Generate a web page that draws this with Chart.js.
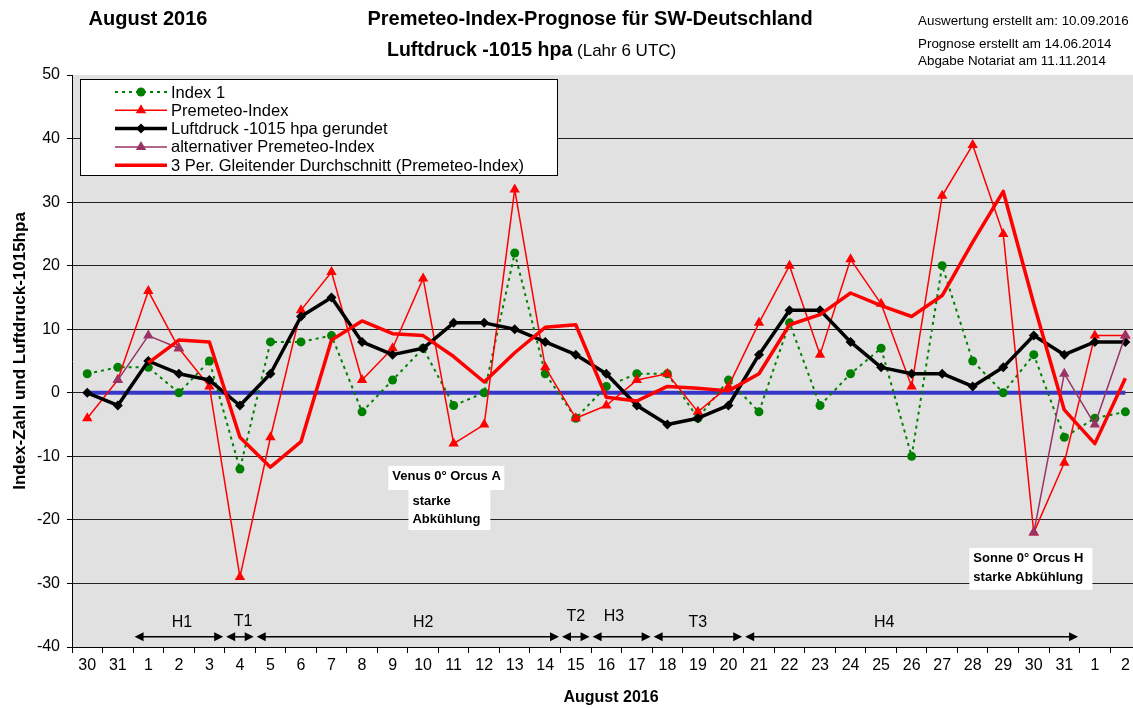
<!DOCTYPE html>
<html lang="de">
<head>
<meta charset="utf-8">
<title>Premeteo-Index-Prognose August 2016</title>
<script src="https://cdn.jsdelivr.net/npm/chart.js@4.4.1/dist/chart.umd.min.js"></script>
<style>
  html, body { margin: 0; padding: 0; background: #fff; overflow: hidden; }
  #myChart { display: block; width: 1133px; height: 708px; }
</style>
</head>
<body>
<canvas id="myChart" width="1133" height="708"></canvas>
<script>
// Tage auf der x-Achse (30./31. Juli, August, 1./2. September)
const tage = ['30', '31', '1', '2', '3', '4', '5', '6', '7', '8', '9', '10', '11', '12', '13', '14', '15',
  '16', '17', '18', '19', '20', '21', '22', '23', '24', '25', '26', '27', '28', '29', '30', '31', '1', '2'];

// Werte
const index1 = [3, 4, 4, 0, 5, -12, 8, 8, 9, -3, 2, 7, -2, 0, 22, 3, -4, 1, 3, 3, -4, 2, -3, 11, -2, 3, 7, -10, 20, 5, 0, 6, -7, -4, -3];
const premeteo = [-4, 2, 16, 7, 1, -29, -7, 13, 19, 2, 7, 18, -8, -5, 32, 4, -4, -2, 2, 3, -3, 1, 11, 20, 6, 21, 14, 1, 31, 39, 25, -22, -11, 9, 9];
const luftdruck = [0, -2, 5, 3, 2, -2, 3, 12, 15, 8, 6, 7, 11, 11, 10, 8, 6, 3, -2, -5, -4, -2, 6, 13, 13, 8, 4, 3, 3, 1, 4, 9, 6, 8, 8];
const alternativ = [null, 2, 9, 7, null, null, null, null, null, null, null, null, null, null, null, null, null, null,
  null, null, null, null, null, null, null, null, null, null, null, null, null, -22, 3, -5, 9];
const gleitend = [null, null, 4.7, 8.3, 8, -7, -11.7, -7.7, 8.3, 11.3, 9.3, 9, 5.7, 1.7, 6.3, 10.3, 10.7, -0.7, -1.3,
  1, 0.7, 0.3, 3, 10.7, 12.3, 15.7, 13.7, 12, 15.3, 23.7, 31.7, 14, -2.7, -8, 2.3];
const nullLinie = [0, 0, 0, 0, 0, 0, 0, 0, 0, 0, 0, 0, 0, 0, 0, 0, 0, 0, 0, 0, 0, 0, 0, 0, 0, 0, 0, 0, 0, 0, 0, 0, 0, 0, 0];

// y-Achse
const yMin = -40;
const yMax = 50;
const yStep = 10;

// x-Achse: halber Tag vor dem ersten Wert, rechts ist das Bild angeschnitten
const xMin = -0.5;
const xMax = 34.25;

// Wetterphasen (Pfeile unten), Positionen auf der x-Achse
const phasen = [
  { name: 'H1', von: 1.5, bis: 4.5, text: 3.1, hoch: 14 },
  { name: 'T1', von: 4.5, bis: 5.5, text: 5.1, hoch: 15 },
  { name: 'H2', von: 5.5, bis: 15.5, text: 11, hoch: 14 },
  { name: 'T2', von: 15.5, bis: 16.5, text: 16, hoch: 20 },
  { name: 'H3', von: 16.5, bis: 18.5, text: 17.25, hoch: 20 },
  { name: 'T3', von: 18.5, bis: 21.5, text: 20, hoch: 14 },
  { name: 'H4', von: 21.5, bis: 32.5, text: 26.1, hoch: 14 }
];

// Textkästen im Diagramm
const hinweise = [
  { links: 9.86, rechts: 13.66, oben: -11.5, unten: -15.3, zeilen: ['Venus 0° Orcus A'] },
  { links: 10.52, rechts: 13.2, oben: -15.3, unten: -21.6, zeilen: ['starke', 'Abkühlung'] },
  { links: 28.89, rechts: 32.92, oben: -24.4, unten: -31.0, zeilen: ['Sonne 0° Orcus H', 'starke Abkühlung'] }
];

const fontFam = 'Arial, "Liberation Sans", sans-serif';
Chart.defaults.font.family = fontFam;
Chart.defaults.color = '#000';

// Werte als Punkte {x: Tagindex, y: Wert}
const punkte = (werte) => werte.map((v, i) => ({ x: i, y: v }));

// kleine Marker fuer die Legende
function zeichneMarker(ctx, stil, r, x, y) {
  ctx.beginPath();
  if (stil === 'circle') {
    ctx.arc(x, y, r, 0, Math.PI * 2);
  } else if (stil === 'triangle') {
    ctx.moveTo(x, y - r);
    ctx.lineTo(x + r * 0.866, y + r / 2);
    ctx.lineTo(x - r * 0.866, y + r / 2);
    ctx.closePath();
  } else if (stil === 'rectRot') {
    ctx.moveTo(x, y - r);
    ctx.lineTo(x + r, y);
    ctx.lineTo(x, y + r);
    ctx.lineTo(x - r, y);
    ctx.closePath();
  }
  ctx.fill();
}

// grauer Plotbereich
const hintergrund = {
  id: 'hintergrund',
  beforeDraw(chart) {
    const { ctx, chartArea: a } = chart;
    ctx.save();
    ctx.fillStyle = '#fff';
    ctx.fillRect(0, 0, chart.width, chart.height);
    ctx.fillStyle = '#e1e1e1';
    ctx.fillRect(a.left, a.top, a.right - a.left, a.bottom - a.top);
    ctx.restore();
  }
};

// Ueberschriften oben und Achsentitel
const kopf = {
  id: 'kopf',
  afterDraw(chart) {
    const ctx = chart.ctx;
    ctx.save();
    ctx.fillStyle = '#000';
    ctx.textBaseline = 'alphabetic';
    ctx.font = 'bold 20px ' + fontFam;
    ctx.textAlign = 'center';
    ctx.fillText('August 2016', 148, 25);
    ctx.fillText('Premeteo-Index-Prognose für SW-Deutschland', 590, 25);
    ctx.textAlign = 'left';
    const t1 = 'Luftdruck -1015 hpa';
    ctx.font = 'bold 19.5px ' + fontFam;
    ctx.fillText(t1, 387, 56);
    const w1 = ctx.measureText(t1).width;
    ctx.font = '17px ' + fontFam;
    ctx.fillText(' (Lahr 6 UTC)', 387 + w1, 56);
    ctx.font = '13.4px ' + fontFam;
    ctx.fillText('Auswertung erstellt am: 10.09.2016', 918, 25);
    ctx.fillText('Prognose erstellt am 14.06.2014', 918, 48);
    ctx.fillText('Abgabe Notariat am 11.11.2014', 918, 65);

    // x-Achsentitel
    ctx.textAlign = 'center';
    ctx.textBaseline = 'middle';
    ctx.font = 'bold 16px ' + fontFam;
    ctx.fillText('August 2016', 611, 698);

    // y-Achsentitel
    ctx.translate(20, 351);
    ctx.rotate(-Math.PI / 2);
    ctx.font = 'bold 17px ' + fontFam;
    ctx.fillText('Index-Zahl und Luftdruck-1015hpa', 0, 0);
    ctx.restore();
  }
};

// Pfeile, Textkästen und Legende
const extras = {
  id: 'extras',
  afterDatasetsDraw(chart) {
    const ctx = chart.ctx;
    const sx = chart.scales.x;
    const sy = chart.scales.y;
    ctx.save();

    // Phasenpfeile
    const yp = sy.getPixelForValue(-38.4);
    ctx.strokeStyle = '#000';
    ctx.fillStyle = '#000';
    ctx.lineWidth = 1.5;
    phasen.forEach(p => {
      const x1 = sx.getPixelForValue(p.von) + 1.5;
      const x2 = sx.getPixelForValue(p.bis) - 1.5;
      ctx.beginPath();
      ctx.moveTo(x1 + 4, yp);
      ctx.lineTo(x2 - 4, yp);
      ctx.stroke();
      ctx.beginPath();
      ctx.moveTo(x1, yp);
      ctx.lineTo(x1 + 9, yp - 4.5);
      ctx.lineTo(x1 + 9, yp + 4.5);
      ctx.closePath();
      ctx.fill();
      ctx.beginPath();
      ctx.moveTo(x2, yp);
      ctx.lineTo(x2 - 9, yp - 4.5);
      ctx.lineTo(x2 - 9, yp + 4.5);
      ctx.closePath();
      ctx.fill();
      ctx.font = '16px ' + fontFam;
      ctx.textAlign = 'center';
      ctx.textBaseline = 'middle';
      ctx.fillText(p.name, sx.getPixelForValue(p.text), yp - p.hoch);
    });

    // Textkästen
    hinweise.forEach(h => {
      const l = sx.getPixelForValue(h.links);
      const r = sx.getPixelForValue(h.rechts);
      const o = sy.getPixelForValue(h.oben);
      const u = sy.getPixelForValue(h.unten);
      ctx.fillStyle = '#fff';
      ctx.fillRect(l, o, r - l, u - o);
      ctx.fillStyle = '#000';
      ctx.font = 'bold 13px ' + fontFam;
      ctx.textAlign = 'left';
      ctx.textBaseline = 'middle';
      h.zeilen.forEach((z, i) => ctx.fillText(z, l + 4, o + 11 + i * 18.5));
    });

    // Legende
    const lx = 80, ly = 79, lw = 477, lh = 96;
    ctx.fillStyle = '#fff';
    ctx.fillRect(lx, ly, lw, lh);
    ctx.strokeStyle = '#000';
    ctx.lineWidth = 1;
    ctx.setLineDash([]);
    ctx.strokeRect(lx + 0.5, ly + 0.5, lw, lh);
    ctx.font = '16.5px ' + fontFam;
    ctx.textAlign = 'left';
    ctx.textBaseline = 'middle';
    chart.data.datasets.slice(0, 5).forEach((ds, i) => {
      const y = 92 + i * 18.3;
      ctx.strokeStyle = ds.borderColor;
      ctx.lineWidth = ds.borderWidth;
      ctx.setLineDash(ds.borderDash || []);
      ctx.beginPath();
      ctx.moveTo(115, y);
      ctx.lineTo(167, y);
      ctx.stroke();
      ctx.setLineDash([]);
      if (ds.pointRadius > 0) {
        ctx.fillStyle = ds.pointBackgroundColor;
        zeichneMarker(ctx, ds.pointStyle, ds.pointRadius, 141, y);
      }
      ctx.fillStyle = '#000';
      ctx.fillText(ds.label, 171, y + 1);
    });
    ctx.restore();
  }
};

const ctx = document.getElementById('myChart').getContext('2d');
const myChart = new Chart(ctx, {
  type: 'line',
  data: {
    datasets: [
      {
        label: 'Index 1',
        data: punkte(index1),
        borderColor: '#008000',
        borderWidth: 2,
        borderDash: [3, 4],
        pointStyle: 'circle',
        pointRadius: 4.5,
        pointBackgroundColor: '#008000',
        pointBorderColor: '#008000',
        pointBorderWidth: 0,
        order: 4,
      },
      {
        label: 'Premeteo-Index',
        data: punkte(premeteo),
        borderColor: '#ff0000',
        borderWidth: 1.5,
        pointStyle: 'triangle',
        pointRadius: 6,
        pointBackgroundColor: '#ff0000',
        pointBorderColor: '#ff0000',
        pointBorderWidth: 0,
        order: 3,
      },
      {
        label: 'Luftdruck -1015 hpa gerundet',
        data: punkte(luftdruck),
        borderColor: '#000000',
        borderWidth: 3.5,
        pointStyle: 'rectRot',
        pointRadius: 5,
        pointBackgroundColor: '#000000',
        pointBorderColor: '#000000',
        pointBorderWidth: 0,
        order: 2,
      },
      {
        label: 'alternativer Premeteo-Index',
        data: punkte(alternativ),
        borderColor: '#993366',
        borderWidth: 1.5,
        pointStyle: 'triangle',
        pointRadius: 6,
        pointBackgroundColor: '#993366',
        pointBorderColor: '#993366',
        pointBorderWidth: 0,
        spanGaps: false,
        order: 1,
      },
      {
        label: '3 Per. Gleitender Durchschnitt (Premeteo-Index)',
        data: punkte(gleitend),
        borderColor: '#ff0000',
        borderWidth: 3.5,
        pointRadius: 0,
        order: 0,
      },
      {
        label: 'Nulllinie',
        data: punkte(nullLinie),
        borderColor: '#3636c8',
        borderWidth: 4,
        pointRadius: 0,
        order: 5,
      },
    ],
  },
  options: {
    responsive: false,
    animation: false,
    events: [],
    devicePixelRatio: 1,
    layout: { autoPadding: false, padding: { top: 75, left: 0, right: 0, bottom: 0 } },
    elements: {
      line: { tension: 0, borderJoinStyle: 'round', fill: false },
    },
    plugins: {
      legend: { display: false },
      tooltip: { enabled: false },
    },
    scales: {
      x: {
        type: 'linear',
        min: xMin,
        max: xMax,
        afterFit: (s) => { s.height = 61; },
        afterBuildTicks: (s) => { s.ticks = tage.map((t, i) => ({ value: i })); },
        grid: {
          offset: true,
          drawOnChartArea: false,
          drawTicks: true,
          tickLength: 6,
          tickColor: '#000',
        },
        border: { display: true, color: '#000', width: 1 },
        ticks: {
          font: { size: 16 },
          color: '#000',
          padding: 3,
          maxRotation: 0,
          autoSkip: false,
          callback: (v) => tage[v],
        },
      },
      y: {
        min: yMin,
        max: yMax,
        afterFit: (s) => { s.width = 72; },
        ticks: { stepSize: yStep, font: { size: 16 }, color: '#000', padding: 7 },
        grid: {
          color: (c) => (c.tick && c.tick.value === yMax ? 'rgba(0,0,0,0)' : '#222'),
          lineWidth: 1,
          tickLength: 5,
          tickColor: '#000',
        },
        border: { display: true, color: '#000', width: 1 },
      },
    },
  },
  plugins: [hintergrund, extras, kopf],
});
</script>
</body>
</html>
